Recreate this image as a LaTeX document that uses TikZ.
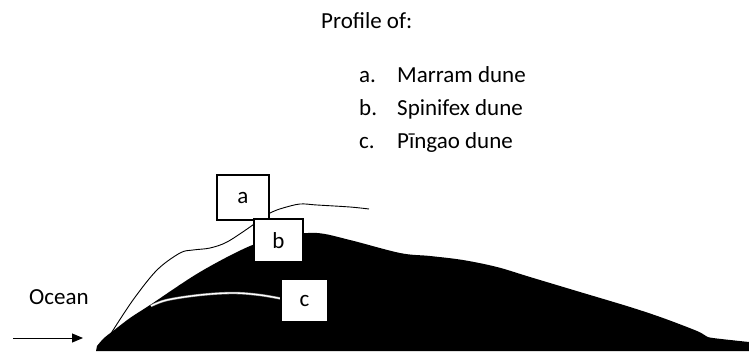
\documentclass[tikz,border=0pt]{standalone}
\usepackage{fontspec}
\setmainfont{Carlito}
\usetikzlibrary{arrows.meta}

\tikzset{
  txt/.style={inner sep=0pt, anchor=base west, font=\fontsize{23}{27}\selectfont},
  labelbox/.style={draw=black, line width=1.2pt, fill=white, inner sep=0pt,
    minimum width=#1, font=\fontsize{23}{27}\selectfont},
  profile/.style={line width=0.9pt, black},
}

\begin{document}
\begin{tikzpicture}[x=1pt, y=-1pt]
  \useasboundingbox (0,0) rectangle (749,351);

  % heading and key
  \node[txt] (title) at (321,28) {Profile of:};
  \node[txt] (ka) at (359,82)  {a.};
  \node[txt] (kb) at (359,115) {b.};
  \node[txt] (kc) at (359,148) {c.};
  \node[txt] (ta) at (397,82)  {Marram dune};
  \node[txt] (tb) at (397,115) {Spinifex dune};
  \node[txt] (tc) at (397,148) {Pīngao dune};

  % ocean label and wind arrow
  \node[txt] (ocean) at (29,304) {Ocean};
  \coordinate (windtail) at (13,338);
  \coordinate (windtip) at (83,338);
  \draw[line width=1pt, -{Triangle[length=11pt, width=9pt]}] (windtail) -- (windtip);

  % dune body (spinifex profile)
  \fill[black] (96,351) -- plot[smooth, tension=0.55] coordinates {
      (97,346) (104,338) (113,331) (130,318) (150,305) (200,272) (250,246)
      (285,236) (317,233) (350,240) (400,253) (430,256) (463,260) (497,267)
      (530,277) (580,292) (630,307) (663,318) (697,331) (706,336) (713,338)
      (749,342)}
    -- (749,351) -- cycle;

  % marram profile
  \draw[profile] plot[smooth, tension=0.55] coordinates {
      (110,335) (133,300) (157,270) (180,253) (193,250) (210,248) (227,242)
      (250,227) (262,218) (272,212) (283,208) (300,204) (317,205) (350,207)
      (369,209)};

  % pingao profile
  \draw[line width=2.4pt, black!45] plot[smooth, tension=0.6] coordinates {
      (151,306) (167,300) (200,295) (233,293) (260,295) (283,299)};
  \draw[line width=1.3pt, white] plot[smooth, tension=0.6] coordinates {
      (151,306) (167,300) (200,295) (233,293) (260,295) (283,299)};

  % label boxes
  \node[labelbox=52pt, minimum height=45pt] (boxa) at (243,197.5) {a};
  \node[labelbox=49pt, minimum height=43pt] (boxb) at (278.5,240.5) {b};
  \node[labelbox=47pt, minimum height=43pt] (boxc) at (304.5,300.5) {c};
\end{tikzpicture}
\end{document}
